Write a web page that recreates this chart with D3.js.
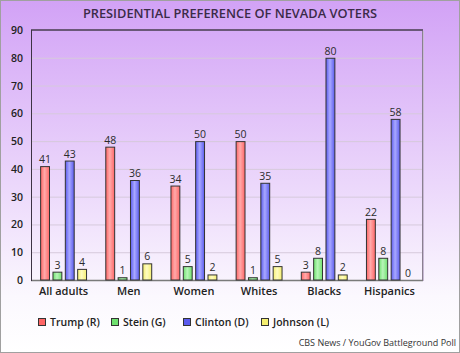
<!DOCTYPE html>
<html>
<head>
<meta charset="utf-8">
<script src="https://cdn.jsdelivr.net/npm/d3@7"></script>
<style>
  body { margin: 0; padding: 0; }
  svg { display: block; font-family: "Open Sans", sans-serif; }
</style>
</head>
<body>
<div id="chart"></div>
<script>
// chart data
const categories = ["All adults", "Men", "Women", "Whites", "Blacks", "Hispanics"];
const seriesNames = ["Trump (R)", "Stein (G)", "Clinton (D)", "Johnson (L)"];
const trump = [41, 48, 34, 50, 3, 22];
const stein = [3, 1, 5, 1, 8, 8];
const clinton = [43, 36, 50, 35, 80, 58];
const johnson = [4, 6, 2, 5, 2, 0];
const yTicks = [0, 10, 20, 30, 40, 50, 60, 70, 80, 90];

const seriesValues = [trump, stein, clinton, johnson];
const seriesColors = [
    { base: "#ff6666", light: "#ffaaaa" },
    { base: "#6ee06e", light: "#b8f5b8" },
    { base: "#5b5bee", light: "#a8a8ff" },
    { base: "#f5ef70", light: "#fffbc0" }
];

const width = 460, height = 353;
const margin = { top: 30, right: 38, bottom: 73, left: 31 };

const svg = d3.select("#chart").append("svg")
    .attr("width", width)
    .attr("height", height);

const defs = svg.append("defs");

// page background gradient
const bg = defs.append("linearGradient")
    .attr("id", "bg").attr("x1", 0).attr("y1", 0).attr("x2", 0).attr("y2", 1);
bg.append("stop").attr("offset", "0%").attr("stop-color", "#d2a2f6");
bg.append("stop").attr("offset", "84%").attr("stop-color", "#fbf8fe");
bg.append("stop").attr("offset", "100%").attr("stop-color", "#ffffff");

// bar gradients
seriesColors.forEach((c, i) => {
    const g = defs.append("linearGradient")
        .attr("id", "bar" + i).attr("x1", 0).attr("y1", 0).attr("x2", 1).attr("y2", 0);
    g.append("stop").attr("offset", "0%").attr("stop-color", c.base);
    g.append("stop").attr("offset", "45%").attr("stop-color", c.light);
    g.append("stop").attr("offset", "100%").attr("stop-color", c.base);
});

svg.append("rect")
    .attr("x", 0.5).attr("y", 0.5)
    .attr("width", width - 1).attr("height", height - 1)
    .attr("fill", "url(#bg)")
    .attr("stroke", "#a0a0a0");

// title
svg.append("text")
    .attr("x", width / 2)
    .attr("y", 18)
    .attr("text-anchor", "middle")
    .style("font-size", "12.8px")
    .style("font-weight", "600")
    .style("fill", "#3b2b48")
    .text("PRESIDENTIAL PREFERENCE OF NEVADA VOTERS");

const x0 = d3.scaleBand()
    .domain(categories)
    .range([margin.left, width - margin.right])
    .paddingInner(0.28)
    .paddingOuter(0.14);

const x1 = d3.scaleBand()
    .domain(d3.range(seriesNames.length))
    .range([0, x0.bandwidth()])
    .paddingInner(0.2);

const y = d3.scaleLinear()
    .domain([0, 90])
    .range([height - margin.bottom, margin.top]);

// gridlines
svg.append("g")
    .selectAll("line")
    .data(yTicks.filter(d => d > 0 && d < 90))
    .enter().append("line")
    .attr("x1", margin.left).attr("x2", width - margin.right)
    .attr("y1", d => y(d) + 0.5).attr("y2", d => y(d) + 0.5)
    .attr("stroke", "#d6cadc")
    .attr("stroke-width", 1);

// y tick labels
svg.append("g")
    .selectAll("text")
    .data(yTicks)
    .enter().append("text")
    .attr("x", 23)
    .attr("y", d => y(d) + 4)
    .attr("text-anchor", "end")
    .style("font-size", "10.5px")
    .style("font-weight", "600")
    .style("fill", "#222")
    .text(d => d);

// plot frame
const plotL = margin.left, plotR = width - margin.right;
const plotT = margin.top, plotB = height - margin.bottom;
svg.append("line").attr("x1", plotR + 0.5).attr("x2", plotR + 0.5)
    .attr("y1", plotT).attr("y2", plotB).attr("stroke", "#8a8090").attr("stroke-width", 1);
svg.append("line").attr("x1", plotR + 1.5).attr("x2", plotR + 1.5)
    .attr("y1", plotT + 1).attr("y2", plotB + 1).attr("stroke", "#c8b8d4").attr("stroke-width", 1);
svg.append("line").attr("x1", plotL).attr("x2", plotR + 1)
    .attr("y1", plotB + 0.5).attr("y2", plotB + 0.5).attr("stroke", "#7a7a7a").attr("stroke-width", 1.5);
svg.append("line").attr("x1", plotL).attr("x2", plotR + 1)
    .attr("y1", plotT).attr("y2", plotT).attr("stroke", "#6a5878").attr("stroke-width", 2);
svg.append("line").attr("x1", plotL + 0.5).attr("x2", plotL + 0.5)
    .attr("y1", plotT).attr("y2", plotB + 1).attr("stroke", "#3d3344").attr("stroke-width", 1);

// bars
const groups = svg.append("g")
    .selectAll("g")
    .data(categories)
    .enter().append("g")
    .attr("transform", d => `translate(${x0(d)},0)`);

groups.each(function (cat, ci) {
    const g = d3.select(this);
    seriesValues.forEach((vals, si) => {
        const v = vals[ci];
        if (v > 0) {
            g.append("rect")
                .attr("x", x1(si) + 0.5)
                .attr("y", y(v) + 0.5)
                .attr("width", x1.bandwidth() - 1)
                .attr("height", y(0) - y(v) - 0.5)
                .attr("fill", `url(#bar${si})`)
                .attr("stroke", "#333")
                .attr("stroke-width", 1);
        }
        g.append("text")
            .attr("x", x1(si) + x1.bandwidth() / 2)
            .attr("y", y(v) - 3)
            .attr("text-anchor", "middle")
            .style("font-size", "10.5px")
            .style("fill", "#2b2b2b")
            .text(v);
    });
});

// category labels
svg.append("g")
    .selectAll("text")
    .data(categories)
    .enter().append("text")
    .attr("x", d => x0(d) + x0.bandwidth() / 2)
    .attr("y", plotB + 15)
    .attr("text-anchor", "middle")
    .style("font-size", "11px")
    .style("font-weight", "600")
    .style("fill", "#222")
    .text(d => d);

// legend
const legendX = [38, 111, 183, 261];
const legend = svg.append("g")
    .selectAll("g")
    .data(seriesNames)
    .enter().append("g")
    .attr("transform", (d, i) => `translate(${legendX[i]},318)`);

legend.append("rect")
    .attr("width", 7).attr("height", 7)
    .attr("x", 0.5).attr("y", 0.5)
    .attr("fill", (d, i) => seriesColors[i].base)
    .attr("stroke", "#333");

legend.append("text")
    .attr("x", 12)
    .attr("y", 8)
    .style("font-size", "10.5px")
    .style("font-weight", "600")
    .style("fill", "#222")
    .text(d => d);

// source
svg.append("text")
    .attr("x", width - 4)
    .attr("y", 346)
    .attr("text-anchor", "end")
    .style("font-size", "9px")
    .style("fill", "#333")
    .text("CBS News / YouGov Battleground Poll");
</script>
</body>
</html>
